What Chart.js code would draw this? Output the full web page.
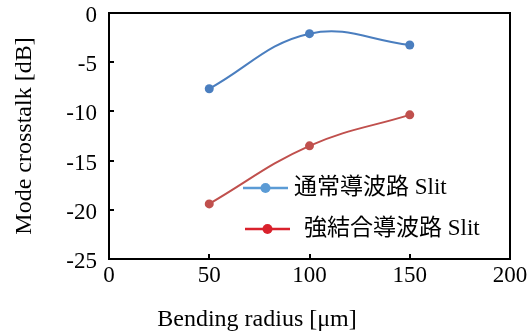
<!DOCTYPE html>
<html>
<head>
<meta charset="utf-8">
<script src="https://cdn.jsdelivr.net/npm/chart.js@4/dist/chart.umd.min.js"></script>
<style>
html, body { margin: 0; padding: 0; background: #fff; }
canvas { display: block; }
</style>
</head>
<body>
<canvas id="chart" width="529" height="334"></canvas>
<script>
// bending radius [um]
const radius = [50, 100, 150];
// mode crosstalk [dB]
const normalSlit = [-7.7, -2.1, -3.25];
const strongSlit = [-19.4, -13.5, -10.35];
const seriesNames = ['通常導波路 Slit', '強結合導波路 Slit'];

const serif = '"Liberation Serif", "DejaVu Serif", serif';

// box round the plot, inward ticks, legend and x title
const framePlugin = {
    id: 'frame',
    afterDraw(chart) {
        const { ctx, chartArea: a, scales: { x, y } } = chart;
        ctx.save();
        ctx.strokeStyle = '#000';
        ctx.lineWidth = 2;
        ctx.strokeRect(a.left, a.top, a.right - a.left, a.bottom - a.top);

        ctx.beginPath();
        x.ticks.forEach(t => {
            if (t.value <= x.min || t.value >= x.max) return;
            const px = Math.round(x.getPixelForValue(t.value));
            ctx.moveTo(px, a.bottom);
            ctx.lineTo(px, a.bottom - 5);
        });
        y.ticks.forEach(t => {
            if (t.value <= y.min || t.value >= y.max) return;
            const py = Math.round(y.getPixelForValue(t.value));
            ctx.moveTo(a.left, py);
            ctx.lineTo(a.left + 5, py);
        });
        ctx.stroke();

        // legend
        const legend = [
            { line: 243, text: 294, y: 188, color: '#5B9BD5' },
            { line: 245, text: 304, y: 229, color: '#D9212C' }
        ];
        ctx.font = '23px "Liberation Serif", "Noto Sans CJK JP", serif';
        ctx.textBaseline = 'middle';
        legend.forEach((it, i) => {
            ctx.strokeStyle = it.color;
            ctx.fillStyle = it.color;
            ctx.lineWidth = 2.5;
            ctx.beginPath();
            ctx.moveTo(it.line, it.y);
            ctx.lineTo(it.line + 45, it.y);
            ctx.stroke();
            ctx.beginPath();
            ctx.arc(it.line + 22.5, it.y, 5, 0, Math.PI * 2);
            ctx.fill();
            ctx.fillStyle = '#000';
            ctx.fillText(chart.data.datasets[i].label, it.text, it.y);
        });

        // x axis title
        ctx.font = '24px ' + serif;
        ctx.textAlign = 'center';
        ctx.fillText('Bending radius [\u03bcm]', 257, 320);
        ctx.restore();
    }
};

const ctx = document.getElementById('chart').getContext('2d');
new Chart(ctx, {
    type: 'line',
    data: {
        datasets: [
            {
                label: seriesNames[0],
                data: radius.map((r, i) => ({ x: r, y: normalSlit[i] })),
                borderColor: '#4A7EBF',
                backgroundColor: '#4A7EBF',
                borderWidth: 2,
                pointRadius: 4.5,
                pointBorderWidth: 0,
                tension: 0.4
            },
            {
                label: seriesNames[1],
                data: radius.map((r, i) => ({ x: r, y: strongSlit[i] })),
                borderColor: '#C0504D',
                backgroundColor: '#C0504D',
                borderWidth: 2,
                pointRadius: 4.5,
                pointBorderWidth: 0,
                tension: 0.4
            }
        ]
    },
    options: {
        responsive: false,
        animation: false,
        devicePixelRatio: 1,
        layout: { padding: 0 },
        plugins: {
            legend: { display: false },
            tooltip: { enabled: false }
        },
        scales: {
            x: {
                type: 'linear',
                min: 0,
                max: 200,
                ticks: { stepSize: 50, color: '#000', padding: 3, font: { family: serif, size: 23 } },
                grid: { display: false, drawTicks: false },
                border: { display: false },
                afterFit: s => {
                    s.height = 75;
                    s.paddingLeft = 0;
                    s.paddingRight = 19;
                }
            },
            y: {
                min: -25,
                max: 0,
                ticks: { stepSize: 5, color: '#000', padding: 12, labelOffset: 3, font: { family: serif, size: 23 } },
                grid: { display: false, drawTicks: false },
                border: { display: false },
                title: {
                    display: true,
                    text: 'Mode crosstalk [dB]',
                    color: '#000',
                    font: { family: serif, size: 24 },
                    padding: { top: 10, bottom: 0 }
                },
                afterFit: s => {
                    s.width = 109;
                    s.paddingTop = 13;
                    s.paddingBottom = 0;
                }
            }
        }
    },
    plugins: [framePlugin]
});
</script>
</body>
</html>
